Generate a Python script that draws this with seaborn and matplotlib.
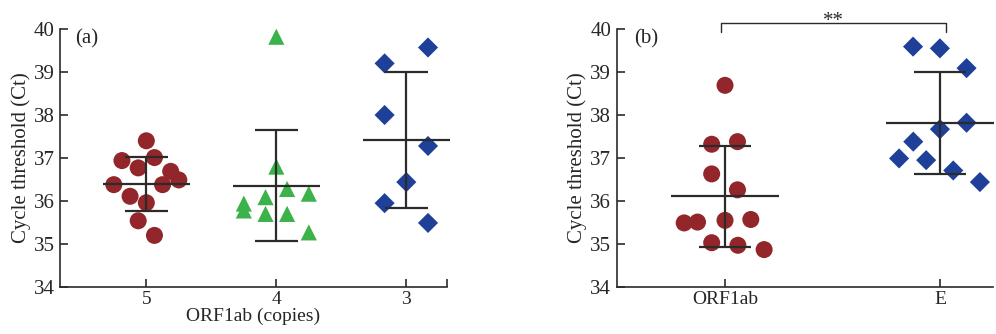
import numpy as np
import pandas as pd
import matplotlib
matplotlib.use("Agg")
import matplotlib.pyplot as plt
import seaborn as sns

# ---------------- data ----------------
a_categories = ["5", "4", "3"]
a_ct_5 = [37.40, 36.94, 37.01, 36.77, 36.69, 36.49, 36.38, 36.38, 36.11, 35.96, 35.54, 35.20]
a_jit_5 = [0.0, -0.1875, 0.0625, -0.0625, 0.1875, 0.25, -0.25, 0.125, -0.125, 0.0, -0.0625, 0.0625]
a_ct_4 = [39.82, 36.80, 36.28, 36.17, 36.09, 35.94, 35.78, 35.70, 35.70, 35.27]
a_jit_4 = [0.0, 0.0, 0.083, 0.25, -0.083, -0.25, -0.25, -0.083, 0.083, 0.25]
a_ct_3 = [39.57, 39.20, 38.00, 37.28, 36.44, 35.95, 35.49]
a_jit_3 = [0.167, -0.167, -0.167, 0.167, 0.0, -0.167, 0.167]

b_categories = ["ORF1ab", "E"]
b_ct_orf = [38.69, 37.32, 37.38, 36.63, 36.26, 35.49, 35.51, 35.55, 35.57, 35.03, 34.97, 34.87]
b_jit_orf = [0.0, -0.062, 0.058, -0.062, 0.058, -0.19, -0.128, 0.0, 0.12, -0.062, 0.06, 0.182]
b_ct_e = [39.59, 39.55, 39.09, 37.82, 37.67, 37.38, 36.99, 36.95, 36.71, 36.44]
b_jit_e = [-0.125, 0.0, 0.124, 0.124, 0.0, -0.124, -0.19, -0.064, 0.062, 0.186]

y_ticks = [34, 35, 36, 37, 38, 39, 40]
significance = "**"

# ---------------- style ----------------
sns.set_style("ticks")
plt.rcParams["font.family"] = ["Liberation Serif", "DejaVu Serif"]

RED = "#92262A"
GREEN = "#3BB24A"
BLUE = "#1F4099"
LINE = "#2b2b2b"
FS = 15
FSX = 14

fig = plt.figure(figsize=(9.96, 3.34), dpi=100)
axA = fig.add_axes([60 / 996, 47 / 334, 387 / 996, 258 / 334])
axB = fig.add_axes([616.7 / 996, 47 / 334, 376.3 / 996, 258 / 334])


def build(cats, cts, jits):
    rows = []
    for i, (c, ys, js) in enumerate(zip(cats, cts, jits)):
        for y, j in zip(ys, js):
            rows.append({"group": c, "x": i + j, "ct": y, "idx": i})
    return pd.DataFrame(rows)


dfA = build(a_categories, [a_ct_5, a_ct_4, a_ct_3], [a_jit_5, a_jit_4, a_jit_3])
dfB = build(b_categories, [b_ct_orf, b_ct_e], [b_jit_orf, b_jit_e])

marker_spec = {
    "5": ("o", RED, 150), "4": ("^", GREEN, 135), "3": ("D", BLUE, 105),
    "ORF1ab": ("o", RED, 150), "E": ("D", BLUE, 105),
}


def draw(ax, df, cats, mean_hw, cap_hw):
    stats = df.groupby("idx")["ct"].agg(["mean", "std"])
    for i, c in enumerate(cats):
        m, s = stats.loc[i, "mean"], stats.loc[i, "std"]
        ax.vlines(i, m - s, m + s, color=LINE, lw=1.6, zorder=3, clip_on=False)
        ax.hlines([m - s, m + s], i - cap_hw, i + cap_hw, color=LINE, lw=1.6, zorder=3, clip_on=False)
        ax.hlines(m, i - mean_hw, i + mean_hw, color=LINE, lw=1.6, zorder=3, clip_on=False)
    for c in cats:
        mk, col, sz = marker_spec[c]
        sub = df[df["group"] == c]
        sns.scatterplot(data=sub, x="x", y="ct", ax=ax, marker=mk, color=col, s=sz,
                        edgecolor="none", linewidth=0, zorder=2, clip_on=False, legend=False)


draw(axA, dfA, a_categories, 0.333, 0.163)
draw(axB, dfB, b_categories, 0.25, 0.122)

for ax in (axA, axB):
    ax.set_ylim(34, 40)
    ax.set_yticks(y_ticks)
    ax.set_ylabel("Cycle threshold (Ct)", fontsize=FS, labelpad=2)
    sns.despine(ax=ax)
    for sp in ("left", "bottom"):
        ax.spines[sp].set_linewidth(1.2)
        ax.spines[sp].set_color(LINE)
    ax.tick_params(direction="in", length=6, width=1.2, color=LINE, labelsize=FS)
    ax.tick_params(axis="y", pad=4)
    ax.tick_params(axis="x", pad=3, labelsize=FSX)

axA.set_xlim(-0.664, 2.313)
axA.set_xticks(range(len(a_categories)))
axA.set_xticklabels(a_categories)
axA.set_xticks([2.313], minor=True)
axA.tick_params(axis="x", which="minor", direction="in", length=6, width=1.2, color=LINE)
axA.set_xlabel("ORF1ab (copies)", fontsize=FSX, labelpad=-0.5)

axB.set_xlim(-0.504, 1.247)
axB.set_xticks(range(len(b_categories)))
axB.set_xticklabels(b_categories)
axB.set_xlabel("")

axA.text(0.04, 0.96, "(a)", transform=axA.transAxes, fontsize=FS, va="center", ha="left")
axB.text(0.045, 0.96, "(b)", transform=axB.transAxes, fontsize=FS, va="center", ha="left")

# significance bracket
yb, yt = 39.94, 40.13
axB.plot([-0.02, -0.02, 1.03, 1.03], [yb, yt, yt, yb], color=LINE, lw=1.0, clip_on=False)
axB.text(0.505, 40.07, significance, ha="center", va="baseline", fontsize=FS, color=LINE)

fig.savefig("out.png", dpi=100, facecolor="white")
